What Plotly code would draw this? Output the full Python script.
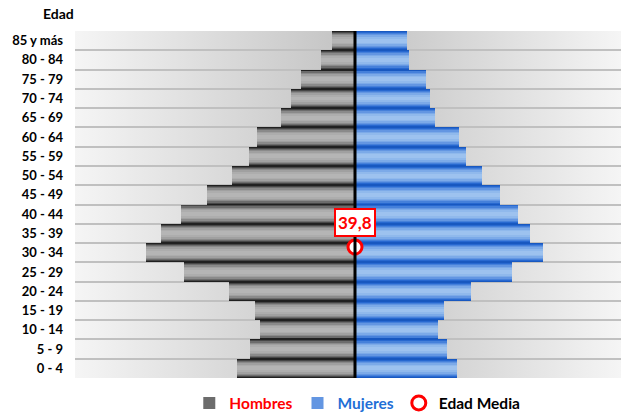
import base64
import plotly.graph_objects as go

# ---------------- data ----------------
age_groups = ["0 - 4", "5 - 9", "10 - 14", "15 - 19", "20 - 24", "25 - 29", "30 - 34",
              "35 - 39", "40 - 44", "45 - 49", "50 - 54", "55 - 59", "60 - 64",
              "65 - 69", "70 - 74", "75 - 79", "80 - 84", "85 y más"]
hombres = [2.36, 2.10, 1.90, 2.00, 2.52, 3.42, 4.18, 3.88, 3.48, 2.96, 2.46, 2.12, 1.96,
           1.48, 1.28, 1.08, 0.68, 0.46]
mujeres = [2.04, 1.84, 1.66, 1.78, 2.32, 3.14, 3.76, 3.50, 3.26, 2.90, 2.54, 2.22, 2.08,
           1.60, 1.50, 1.42, 1.08, 1.04]
edad_media = 39.8

# ---------------- style ----------------
X_MIN, X_MAX = -5.6, 5.32
Y2_MAX = 105.5
FONT = "Lato"
RED = "#ff0000"
BLUE = "#1f6fd6"

male_layers = [(1.00, "#202020"), (0.90, "#464646"), (0.80, "#6c6c6c"), (0.68, "#8a8a8a"),
               (0.54, "#a0a0a0"), (0.38, "#adadad"), (0.20, "#b5b5b5")]
female_layers = [(1.00, "#1858c0"), (0.90, "#2768d0"), (0.80, "#4580da"), (0.68, "#6396e2"),
                 (0.54, "#7caae8"), (0.38, "#90b9ec"), (0.20, "#9dc2ef")]

fig = go.Figure()

for i, (w, c) in enumerate(male_layers):
    fig.add_trace(go.Bar(
        y=age_groups, x=[-v for v in hombres], orientation="h", width=w,
        marker=dict(color=c, line=dict(width=0)),
        name=f"<span style='color:{RED}'>Hombres</span>",
        showlegend=(i == 2), legendrank=1, hoverinfo="skip"))

for i, (w, c) in enumerate(female_layers):
    fig.add_trace(go.Bar(
        y=age_groups, x=mujeres, orientation="h", width=w,
        marker=dict(color=c, line=dict(width=0)),
        name=f"<span style='color:{BLUE}'>Mujeres</span>",
        showlegend=(i == 3), legendrank=2, hoverinfo="skip"))

fig.add_trace(go.Scatter(
    x=[0], y=[edad_media], yaxis="y2", mode="markers",
    marker=dict(size=14, color="white", line=dict(color=RED, width=3)),
    name="<span style='color:#000000'>Edad Media</span>", legendrank=3,
    hoverinfo="skip"))

# background horizontal gradient (light at edges, darker near centre)
center_frac = (0 - X_MIN) / (X_MAX - X_MIN)
svg = (
    "<svg xmlns='http://www.w3.org/2000/svg' width='600' height='100' preserveAspectRatio='none'>"
    "<defs><linearGradient id='g' x1='0' y1='0' x2='1' y2='0'>"
    "<stop offset='0' stop-color='#f5f5f5'/>"
    f"<stop offset='{center_frac:.3f}' stop-color='#c2c2c2'/>"
    "<stop offset='1' stop-color='#f5f5f5'/>"
    "</linearGradient></defs>"
    "<rect width='600' height='100' fill='url(#g)'/></svg>"
)
svg_uri = "data:image/svg+xml;base64," + base64.b64encode(svg.encode()).decode()
fig.add_layout_image(dict(source=svg_uri, xref="paper", yref="paper", x=0, y=1,
                          sizex=1, sizey=1, sizing="stretch", layer="below",
                          xanchor="left", yanchor="top"))

# central axis line
fig.add_shape(type="line", x0=0, x1=0, xref="x", y0=0, y1=1, yref="paper",
              line=dict(color="black", width=3), layer="above")

fig.add_annotation(x=0, y=edad_media, xref="x", yref="y2",
                   text="<b>" + f"{edad_media:.1f}".replace(".", ",") + "</b>",
                   showarrow=False, yshift=25, font=dict(family=FONT, size=17, color=RED),
                   bgcolor="white", bordercolor=RED, borderwidth=2, borderpad=2)

fig.add_annotation(x=-0.031, y=1.05, xref="paper", yref="paper",
                   text="<b>Edad</b>", showarrow=False, xanchor="center", yanchor="middle",
                   font=dict(family=FONT, size=14, color="black"))

fig.update_layout(
    width=621, height=416,
    margin=dict(l=75, r=0, t=31, b=38, autoexpand=False),
    paper_bgcolor="white", plot_bgcolor="rgba(0,0,0,0)",
    barmode="overlay", bargap=0,
    font=dict(family=FONT, size=13, color="black"),
    xaxis=dict(range=[X_MIN, X_MAX], showticklabels=False, showgrid=False,
               zeroline=False, showline=False, ticks="", fixedrange=True),
    yaxis=dict(type="category", categoryorder="array", categoryarray=age_groups,
               range=[-0.5, len(age_groups) - 0.5], tickson="boundaries",
               showgrid=True, gridcolor="#c0c0c0", gridwidth=2, ticks="",
               showline=False, zeroline=False, ticklabelstandoff=11,
               tickfont=dict(family=FONT, size=13, color="black", weight="bold")),
    yaxis2=dict(overlaying="y", range=[0, Y2_MAX], visible=False),
    legend=dict(orientation="h", x=0.517, xanchor="center", y=-0.024, yanchor="top",
                font=dict(family=FONT, size=15.5, weight="bold"), traceorder="normal",
                bgcolor="rgba(0,0,0,0)", itemwidth=30),
    showlegend=True,
)

fig.write_html("out.html")
